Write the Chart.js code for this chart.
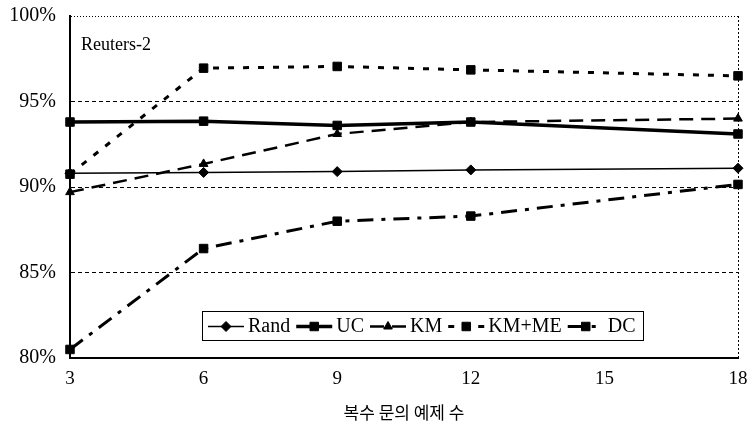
<!DOCTYPE html>
<html>
<head>
<meta charset="utf-8">
<script src="https://cdn.jsdelivr.net/npm/chart.js@4"></script>
<style>
  html, body { margin: 0; padding: 0; background: #fff; }
  #wrap { width: 751px; height: 435px; }
</style>
</head>
<body>
<div id="wrap"><canvas id="lineChart" width="751" height="435"></canvas></div>
<script>
// 복수 문의 예제 수 (x)
const examples = [3, 6, 9, 12, 18];

// 정확도 (%)
const randVals = [90.8, 90.85, 90.9, 91.0, 91.1];
const ucVals   = [93.8, 93.85, 93.6, 93.8, 93.1];
const kmVals   = [89.7, 91.35, 93.1, 93.8, 94.0];
const kmmeVals = [90.75, 96.95, 97.05, 96.85, 96.5];
const dcVals   = [80.5, 86.4, 88.0, 88.3, 90.15];

const xTicks = [3, 6, 9, 12, 15, 18];
const yTicks = [80, 85, 90, 95, 100];

const serif = "'Liberation Serif', 'DejaVu Serif', serif";

function pts(vals) {
    return vals.map((v, i) => ({ x: examples[i], y: v }));
}

// 범례 + 제목 (차트 안쪽)
const insidePlugin = {
    id: "inside",
    afterDraw(chart) {
        const ctx = chart.ctx;
        const area = chart.chartArea;
        ctx.save();

        ctx.fillStyle = "#000";
        ctx.font = "18px " + serif;
        ctx.textBaseline = "alphabetic";
        ctx.fillText("Reuters-2", area.left + 11, area.top + 34);

        // legend box
        const bx = 202, by = 311, bw = 441, bh = 29;
        ctx.fillStyle = "#fff";
        ctx.fillRect(bx, by, bw, bh);
        ctx.strokeStyle = "#000";
        ctx.lineWidth = 1;
        ctx.setLineDash([]);
        ctx.strokeRect(bx + 0.5, by + 0.5, bw, bh);

        ctx.font = "20px " + serif;
        let x = bx + 6;
        const cy = by + bh / 2 + 1;
        chart.data.datasets.forEach(ds => {
            ctx.strokeStyle = "#000";
            ctx.lineWidth = ds.borderWidth;
            ctx.setLineDash(ds.borderDash || []);
            ctx.beginPath();
            ctx.moveTo(x, cy);
            ctx.lineTo(x + 36, cy);
            ctx.stroke();
            ctx.setLineDash([]);
            ctx.fillStyle = "#000";
            ctx.lineWidth = 1;
            Chart.helpers.drawPoint(ctx, {
                pointStyle: ds.pointStyle,
                radius: ds.pointRadius,
                rotation: 0,
                borderWidth: 1
            }, x + 18, cy);
            ctx.fillStyle = "#000";
            ctx.textBaseline = "middle";
            ctx.fillText(ds.label, x + 40, cy);
            x += 40 + ctx.measureText(ds.label).width + 6;
        });
        ctx.restore();
    }
};

function mkSet(label, vals, width, dash, style, radius) {
    return {
        label: label,
        data: pts(vals),
        borderColor: "#000",
        backgroundColor: "#000",
        pointBackgroundColor: "#000",
        pointBorderColor: "#000",
        borderWidth: width,
        borderDash: dash,
        pointStyle: style,
        pointRadius: radius,
        pointBorderWidth: 1,
        tension: 0,
        clip: false
    };
}

new Chart(document.getElementById("lineChart"), {
    type: "line",
    data: {
        datasets: [
            mkSet("Rand", randVals, 1.5, [], "rectRot", 5),
            mkSet("UC", ucVals, 3.5, [], "rect", 6),
            mkSet("KM", kmVals, 2.5, [14, 8], "triangle", 5),
            mkSet("KM+ME", kmmeVals, 3, [6, 9], "rect", 6),
            mkSet("DC", dcVals, 3, [16, 8, 4, 8], "rect", 6)
        ]
    },
    plugins: [insidePlugin],
    options: {
        responsive: false,
        animation: false,
        layout: { autoPadding: false, padding: { top: 16, right: 13, left: 0, bottom: 0 } },
        plugins: {
            legend: { display: false },
            tooltip: { enabled: false }
        },
        scales: {
            x: {
                type: "linear",
                min: 3,
                max: 18,
                afterBuildTicks: s => { s.ticks = xTicks.map(v => ({ value: v })); },
                afterFit: s => { s.height = 77; s.paddingLeft = 0; s.paddingRight = 0; },
                ticks: {
                    color: "#000",
                    padding: 10,
                    font: { family: serif, size: 19 }
                },
                grid: {
                    drawTicks: false,
                    color: c => (c.tick && c.tick.value === 18) ? "#000" : "rgba(0,0,0,0)",
                    lineWidth: 1
                },
                border: { display: true, color: "#000", width: 2, dash: [2, 2] },
                title: {
                    display: true,
                    text: "복수 문의 예제 수",
                    color: "#000",
                    font: { family: "'Noto Sans CJK KR', sans-serif", size: 17 },
                    padding: { top: 0, bottom: 12 }
                }
            },
            y: {
                min: 80,
                max: 100,
                afterBuildTicks: s => { s.ticks = yTicks.map(v => ({ value: v })); },
                afterFit: s => { s.width = 70; s.paddingTop = 0; s.paddingBottom = 0; },
                ticks: {
                    color: "#000",
                    padding: 14,
                    font: { family: serif, size: 20 },
                    callback: v => v + "%"
                },
                grid: {
                    drawTicks: false,
                    color: "#000",
                    lineWidth: 1
                },
                border: {
                    display: true,
                    color: "#000",
                    width: 2,
                    dash: c => (c.tick && c.tick.value === 100) ? [1, 2] : [4, 3]
                }
            }
        }
    }
});
</script>
</body>
</html>
